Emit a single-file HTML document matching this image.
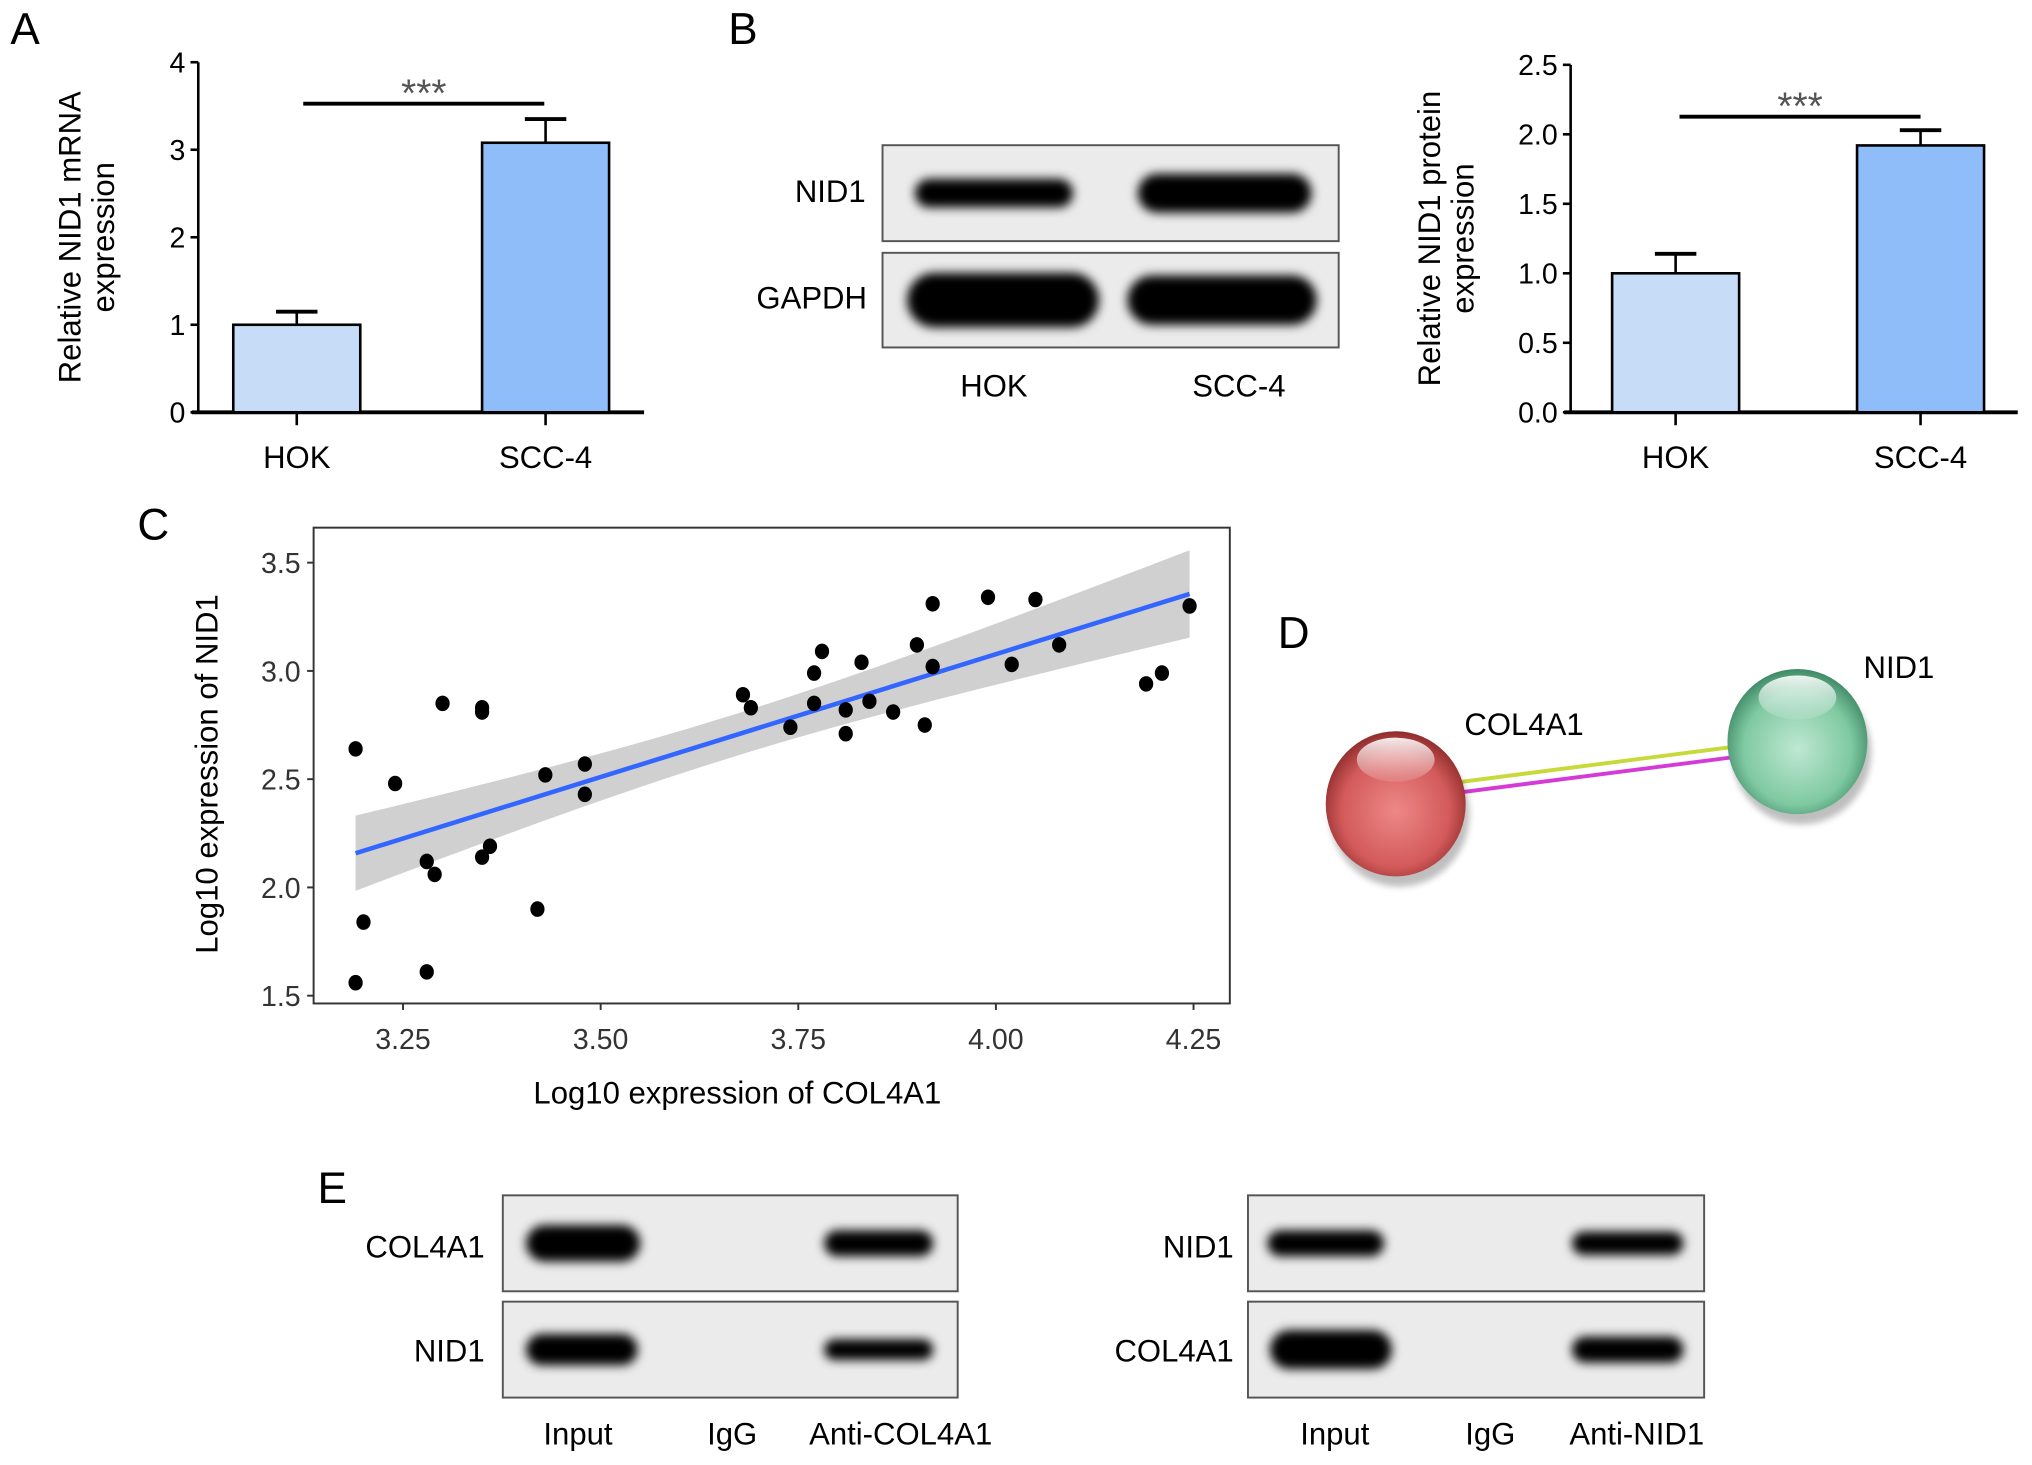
<!DOCTYPE html>
<html><head><meta charset="utf-8"><style>
html,body{margin:0;padding:0;background:#fff;}
svg{display:block;font-family:"Liberation Sans",Arial,sans-serif;}
</style></head><body>
<svg id="fig" width="2032" height="1465" viewBox="0 0 1568 1130" preserveAspectRatio="none" xmlns="http://www.w3.org/2000/svg">
<defs>
<filter id="blur" x="-20%" y="-50%" width="140%" height="200%"><feGaussianBlur stdDeviation="4"/></filter>
<filter id="blur2" x="-20%" y="-50%" width="140%" height="200%"><feGaussianBlur stdDeviation="2.5"/></filter>
<radialGradient id="gr" cx="50%" cy="55%" r="55%"><stop offset="0" stop-color="#e88"/><stop offset="0.7" stop-color="#d35a5a"/><stop offset="1" stop-color="#902c2c"/></radialGradient>
<radialGradient id="gg" cx="50%" cy="55%" r="55%"><stop offset="0" stop-color="#bfe8d2"/><stop offset="0.7" stop-color="#7fc9a2"/><stop offset="1" stop-color="#3f8a66"/></radialGradient>
<linearGradient id="hl" x1="0" y1="0" x2="0" y2="1"><stop offset="0" stop-color="#fff" stop-opacity="0.9"/><stop offset="1" stop-color="#fff" stop-opacity="0.1"/></linearGradient>
</defs>
<g id="panelA"></g>
<g id="panelB"></g>
<g id="blots"></g>
<g id="panelC"></g>
<g id="panelD"></g>
</svg>
<script>
const NS="http://www.w3.org/2000/svg";
// ---- data ----
const barCats=["HOK","SCC-4"];
const mrnaValues=[1.0,3.08];
const mrnaErrors=[0.15,0.27];
const proteinValues=[1.0,1.92];
const proteinErrors=[0.14,0.11];
const mrnaTicks=["0","1","2","3","4"];
const proteinTicks=["0.0","0.5","1.0","1.5","2.0","2.5"];
const scatterX=[3.19,3.20,3.19,3.24,3.28,3.29,3.28,3.30,3.35,3.35,3.35,3.36,3.42,3.43,3.48,3.48,3.68,3.69,3.74,3.77,3.77,3.78,3.81,3.81,3.83,3.84,3.87,3.90,3.91,3.92,3.92,3.99,4.02,4.05,4.08,4.19,4.21,4.245];
const scatterY=[2.64,1.84,1.56,2.48,2.12,2.06,1.61,2.85,2.81,2.83,2.14,2.19,1.90,2.52,2.43,2.57,2.89,2.83,2.74,2.99,2.85,3.09,2.71,2.82,3.04,2.86,2.81,3.12,2.75,3.31,3.02,3.34,3.03,3.33,3.12,2.94,2.99,3.30];
const scatterXTicks=["3.25","3.50","3.75","4.00","4.25"];
const scatterYTicks=["1.5","2.0","2.5","3.0","3.5"];

function el(tag,attrs,parent,text){const e=document.createElementNS(NS,tag);for(const k in attrs)e.setAttribute(k,attrs[k]);if(text!==undefined)e.textContent=text;parent.appendChild(e);return e;}

// ---- bar chart ----
function barChart(g,o){
  const y=v=>o.y0-(v/o.max)*(o.y0-o.y1);
  const ax=el('line',{x1:o.ax,y1:o.y1,x2:o.ax,y2:o.y0,stroke:'#000','stroke-width':2},g);
  
  const bx=el('line',{x1:o.ax-5,y1:o.y0,x2:o.axEnd,y2:o.y0,stroke:'#000','stroke-width':3},g);
  
  o.ticks.forEach((t,i)=>{const v=parseFloat(t);const yy=y(v);
    el('line',{x1:o.ax-6,y1:yy,x2:o.ax,y2:yy,stroke:'#000','stroke-width':2},g);
    const tx=el('text',{x:o.ax-10,y:yy+8,'font-size':22,'text-anchor':'end'},g,t);
    });
  o.vals.forEach((v,i)=>{const cx=o.cx[i];
    const e=el('line',{x1:cx,y1:y(v),x2:cx,y2:y(v+o.errs[i]),stroke:'#000','stroke-width':2},g);
    
    el('line',{x1:cx-16,y1:y(v+o.errs[i]),x2:cx+16,y2:y(v+o.errs[i]),stroke:'#000','stroke-width':3},g);
    const r=el('rect',{x:cx-49,y:y(v),width:98,height:o.y0-y(v),fill:o.colors[i],stroke:'#000','stroke-width':2},g);
    
    el('line',{x1:cx,y1:o.y0,x2:cx,y2:o.y0+10,stroke:'#000','stroke-width':2},g);
    const l=el('text',{x:cx,y:o.y0+43,'font-size':24,'text-anchor':'middle'},g,barCats[i]);
    });
  const s=el('line',{x1:o.sig[0],y1:o.sigY,x2:o.sig[1],y2:o.sigY,stroke:'#000','stroke-width':3},g);
  
  const st=el('text',{x:(o.sig[0]+o.sig[1])/2,y:o.sigY+2,'font-size':30,'text-anchor':'middle',fill:'#555'},g,'***');
  
  const t=el('text',{transform:`translate(${o.tx},${(o.y0+o.y1)/2}) rotate(-90)`,'font-size':24,'text-anchor':'middle'},g);
  
  el('tspan',{x:0,dy:0},t,o.title[0]);el('tspan',{x:0,dy:26},t,o.title[1]);
}
const A=document.getElementById('panelA');
const la=el('text',{x:8,y:34,'font-size':34},A,'A');
barChart(A,{ax:153,axEnd:497,y0:318,y1:48,max:4,ticks:mrnaTicks,vals:mrnaValues,errs:mrnaErrors,cx:[229,421],colors:['#c6dcf7','#8fbdf9'],sig:[234,420],sigY:80,tx:62,title:['Relative NID1 mRNA','expression']});
const B=document.getElementById('panelB');
const lb=el('text',{x:562,y:34,'font-size':34},B,'B');
barChart(B,{ax:1212,axEnd:1557,y0:318,y1:50,max:2.5,ticks:proteinTicks,vals:proteinValues,errs:proteinErrors,cx:[1293,1482],colors:['#c6dcf7','#8fbdf9'],sig:[1296,1482],sigY:90,tx:1111,title:['Relative NID1 protein','expression']});

// ---- blots ----
const BL=document.getElementById('blots');
function blot(x,y,w,h,bands,name){
  const g=el('g',{},BL);
  el('rect',{x:x,y:y,width:w,height:h,fill:'#ebebeb',stroke:'#555','stroke-width':1.5},g);
  bands.forEach(b=>{el('rect',{x:b[0],y:y+h/2-b[2]/2,width:b[1],height:b[2],rx:b[2]/2,fill:'#000',filter:'url(#blur)'},g);});
}
blot(681,112,352,74,[[706,122,22],[878,134,30]],'nid1-blot-b');
blot(681,195,352,73,[[700,148,42],[870,146,38]],'gapdh-blot-b');
[['NID1',668,156],['GAPDH',669,238]].forEach(t=>{const e=el('text',{x:t[1],y:t[2],'font-size':24,'text-anchor':'end'},BL,t[0]);});
[['HOK',767,306],['SCC-4',956,306]].forEach(t=>{const e=el('text',{x:t[1],y:t[2],'font-size':24,'text-anchor':'middle'},BL,t[0]);});
const le=el('text',{x:245,y:928,'font-size':34},BL,'E');
blot(388,922,351,74,[[406,88,28],[636,84,20]],'col4a1-blot-e-left');
blot(388,1004,351,74,[[406,86,24],[636,84,16]],'nid1-blot-e-left');
blot(963,922,352,74,[[978,90,20],[1213,86,18]],'nid1-blot-e-right');
blot(963,1004,352,74,[[980,94,30],[1213,86,20]],'col4a1-blot-e-right');
[['COL4A1',374,970],['NID1',374,1050],['NID1',952,970],['COL4A1',952,1050]].forEach(t=>{const e=el('text',{x:t[1],y:t[2],'font-size':24,'text-anchor':'end'},BL,t[0]);});
[['Input',446],['IgG',565],['Anti-COL4A1',695],['Input',1030],['IgG',1150],['Anti-NID1',1263]].forEach(t=>{const e=el('text',{x:t[1],y:1114,'font-size':24,'text-anchor':'middle'},BL,t[0]);});

// ---- scatter ----
const C=document.getElementById('panelC');
const lc=el('text',{x:106,y:416,'font-size':34},C,'C');
const px=v=>311+(v-3.25)*610, py=v=>768-(v-1.5)*167;
const n=scatterX.length;
const mx=scatterX.reduce((a,b)=>a+b)/n,my=scatterY.reduce((a,b)=>a+b)/n;
let sxx=0,sxy=0;for(let i=0;i<n;i++){sxx+=(scatterX[i]-mx)**2;sxy+=(scatterX[i]-mx)*(scatterY[i]-my);}
const slope=sxy/sxx,icp=my-slope*mx;
let sse=0;for(let i=0;i<n;i++)sse+=(scatterY[i]-(icp+slope*scatterX[i]))**2;
const s=Math.sqrt(sse/(n-2));
const xmin=Math.min(...scatterX),xmax=Math.max(...scatterX);
let up=[],lo=[];
for(let k=0;k<=40;k++){const x=xmin+(xmax-xmin)*k/40;const yh=icp+slope*x;const se=s*Math.sqrt(1/n+(x-mx)**2/sxx)*2.03;
  up.push(px(x)+','+py(yh+se));lo.unshift(px(x)+','+py(yh-se));}
const band=el('polygon',{points:up.concat(lo).join(' '),fill:'#c8c8c8','fill-opacity':0.85},C);

const rl=el('line',{x1:px(xmin),y1:py(icp+slope*xmin),x2:px(xmax),y2:py(icp+slope*xmax),stroke:'#3366ff','stroke-width':3.5},C);

for(let i=0;i<n;i++){const c=el('ellipse',{cx:px(scatterX[i]),cy:py(scatterY[i]),rx:5.5,ry:6,fill:'#000'},C);
  }
const fr=el('rect',{x:242,y:407,width:707,height:367,fill:'none',stroke:'#333','stroke-width':1.5},C);

scatterXTicks.forEach(t=>{const x=px(parseFloat(t));el('line',{x1:x,y1:774,x2:x,y2:779,stroke:'#333','stroke-width':1.5},C);
  const e=el('text',{x:x,y:809,'font-size':22,'text-anchor':'middle',fill:'#333'},C,t);});
scatterYTicks.forEach(t=>{const y=py(parseFloat(t));el('line',{x1:237,y1:y,x2:242,y2:y,stroke:'#333','stroke-width':1.5},C);
  const e=el('text',{x:232,y:y+8,'font-size':22,'text-anchor':'end',fill:'#333'},C,t);});
const xt=el('text',{x:569,y:851,'font-size':24,'text-anchor':'middle'},C,'Log10 expression of COL4A1');
const yt=el('text',{transform:'translate(168,597) rotate(-90)','font-size':24,'text-anchor':'middle'},C,'Log10 expression of NID1');

// ---- network ----
const D=document.getElementById('panelD');
const ld=el('text',{x:986,y:500,'font-size':34},D,'D');
const e1=el('line',{x1:1128,y1:603,x2:1338,y2:576,stroke:'#c8d93a','stroke-width':3},D);
const e2=el('line',{x1:1128,y1:611,x2:1338,y2:584,stroke:'#d63ad6','stroke-width':3},D);
[[1077,620,'url(#gr)','node-col4a1'],[1387,572,'url(#gg)','node-nid1']].forEach(nd=>{
  const g=el('g',{},D);
  el('ellipse',{cx:nd[0]+3,cy:nd[1]+8,rx:54,ry:56,fill:'#000',opacity:0.25,filter:'url(#blur2)'},g);
  el('ellipse',{cx:nd[0],cy:nd[1],rx:54,ry:56,fill:nd[2]},g);
  el('ellipse',{cx:nd[0],cy:nd[1]-34,rx:30,ry:17,fill:'url(#hl)'},g);});
const t1=el('text',{x:1130,y:567,'font-size':24},D,'COL4A1');
const t2=el('text',{x:1438,y:523,'font-size':24},D,'NID1');
</script>
</body></html>
